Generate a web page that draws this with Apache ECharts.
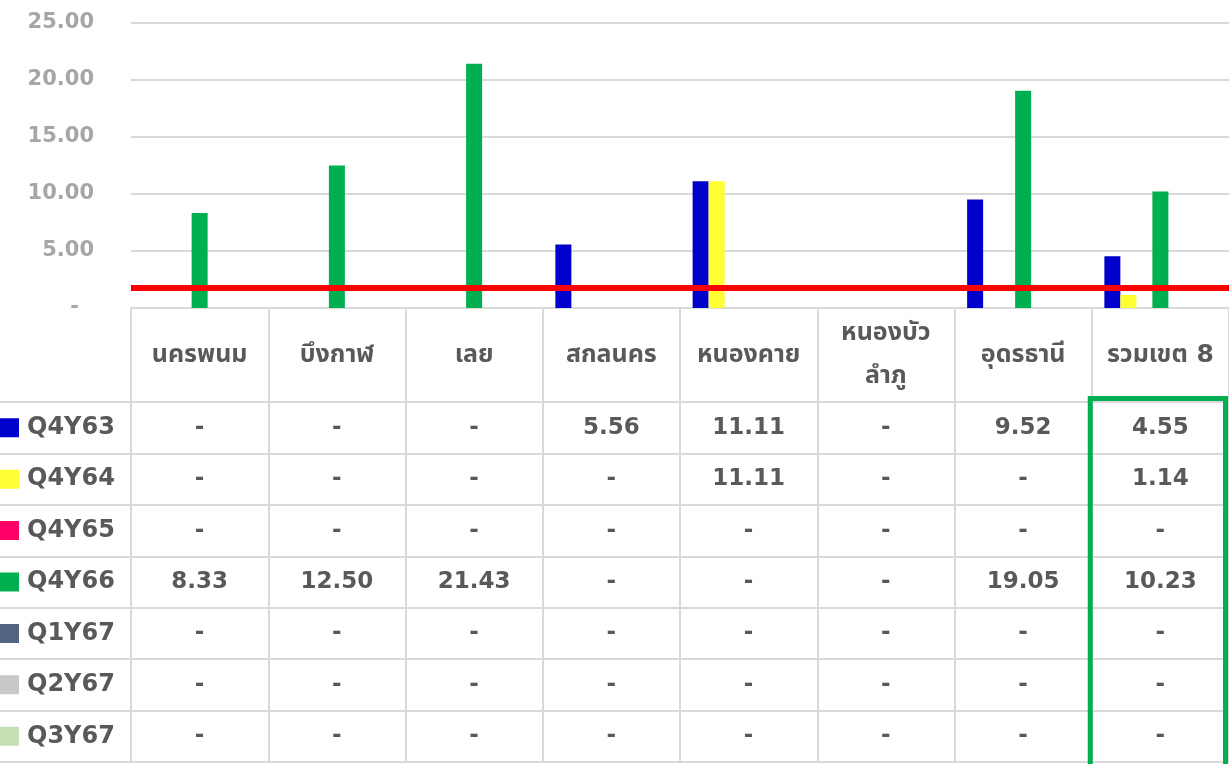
<!DOCTYPE html>
<html>
<head>
<meta charset="utf-8">
<title>chart</title>
<script src="https://cdn.jsdelivr.net/npm/echarts@6/dist/echarts.min.js"></script>
<style>
    html, body { margin: 0; padding: 0; background: #ffffff; }
    #main { width: 1229px; height: 764px; }
</style>
</head>
<body>
<div id="main"></div>
<script>
// categories (province + district total)
var categories = ['นครพนม', 'บึงกาฬ', 'เลย', 'สกลนคร', 'หนองคาย', 'หนองบัว\nลำภู', 'อุดรธานี', 'รวมเขต 8'];
var seriesNames = ['Q4Y63', 'Q4Y64', 'Q4Y65', 'Q4Y66', 'Q1Y67', 'Q2Y67', 'Q3Y67'];
var seriesColors = ['#0000cc', '#ffff33', '#ff0066', '#00b050', '#536480', '#c8c8c8', '#c5e0b4'];

// values, null = "-"
var q4y63 = [null, null, null, 5.56, 11.11, null, 9.52, 4.55];
var q4y64 = [null, null, null, null, 11.11, null, null, 1.14];
var q4y65 = [null, null, null, null, null, null, null, null];
var q4y66 = [8.33, 12.50, 21.43, null, null, null, 19.05, 10.23];
var q1y67 = [null, null, null, null, null, null, null, null];
var q2y67 = [null, null, null, null, null, null, null, null];
var q3y67 = [null, null, null, null, null, null, null, null];
var seriesValues = [q4y63, q4y64, q4y65, q4y66, q1y67, q2y67, q3y67];

var targetLine = 1.75;
var yTicks = [0, 5, 10, 15, 20, 25];

var FONT = "'DejaVu Sans', 'Noto Sans Thai', 'Noto Sans', sans-serif";
var TXT = '#595959';
var LINE = '#d9d9d9';

var dom = document.getElementById('main');
var chart = echarts.init(dom, null, {renderer: 'canvas'});

// bars
var series = [];
for (var i = 0; i < seriesNames.length; ++i) {
    var s = {
        type: 'bar',
        name: seriesNames[i],
        xAxisIndex: 0,
        yAxisIndex: 0,
        barWidth: 16,
        barGap: '0%',
        itemStyle: {color: seriesColors[i]},
        data: seriesValues[i]
    };
    if (i === 0) {
        s.markLine = {
            silent: true,
            symbol: ['none', 'none'],
            label: {show: false},
            lineStyle: {color: '#ff0000', width: 6, type: 'solid'},
            data: [{yAxis: targetLine}]
        };
    }
    series.push(s);
}

// table cells
var cells = [];
for (var r = 0; r < seriesNames.length; ++r) {
    for (var c = 0; c < categories.length; ++c) {
        cells.push([c, r, seriesValues[r][c]]);
    }
}
series.push({
    type: 'scatter',
    xAxisIndex: 1,
    yAxisIndex: 1,
    symbolSize: 0,
    silent: true,
    encode: {x: 0, y: 1},
    itemStyle: {opacity: 1},
    label: {
        show: true,
        position: 'inside',
        color: TXT,
        fontFamily: FONT,
        fontWeight: 'bold',
        fontSize: 23,
        formatter: function (p) {
            var v = p.value[2];
            return v == null ? '-' : v.toFixed(2);
        }
    },
    data: cells
});

var legendRich = {t: {color: TXT, fontFamily: FONT, fontWeight: 'bold', fontSize: 24, padding: [0, 0, 0, 8]}};
for (var k = 0; k < seriesColors.length; ++k) {
    legendRich['c' + k] = {backgroundColor: seriesColors[k], width: 19, height: 19};
}

var option = {
    backgroundColor: '#ffffff',
    animation: false,
    textStyle: {fontFamily: FONT},
    grid: [
        {left: 131, right: 0, top: 23, height: 285, outerBoundsMode: 'none'},
        {left: 131, right: 0, top: 402, height: 360, outerBoundsMode: 'none'}
    ],
    xAxis: [
        {
            type: 'category',
            gridIndex: 0,
            data: categories,
            axisLine: {show: true, lineStyle: {color: LINE, width: 2}},
            axisTick: {show: true, length: 94, lineStyle: {color: LINE, width: 2}},
            axisLabel: {
                interval: 0,
                margin: 47,
                verticalAlign: 'middle',
                color: TXT,
                fontFamily: FONT,
                fontWeight: 'bold',
                fontSize: 25,
                lineHeight: 43
            }
        },
        {
            type: 'category',
            gridIndex: 1,
            data: categories,
            axisLine: {show: true, lineStyle: {color: LINE, width: 2}},
            axisTick: {show: false},
            axisLabel: {show: false},
            splitLine: {show: true, lineStyle: {color: LINE, width: 2}}
        }
    ],
    yAxis: [
        {
            type: 'value',
            gridIndex: 0,
            min: yTicks[0],
            max: yTicks[yTicks.length - 1],
            interval: 5,
            axisLine: {show: false},
            axisTick: {show: false},
            splitLine: {lineStyle: {color: LINE, width: 2}},
            axisLabel: {
                margin: 37,
                color: '#a6a6a6',
                fontFamily: FONT,
                fontWeight: 'bold',
                fontSize: 21,
                formatter: function (v) { return v === 0 ? '{d|-}' : v.toFixed(2); },
                rich: {d: {color: '#a6a6a6', fontWeight: 'bold', fontSize: 21, padding: [0, 15, 0, 0]}}
            }
        },
        {
            type: 'category',
            gridIndex: 1,
            inverse: true,
            data: seriesNames,
            axisLine: {show: true, lineStyle: {color: LINE, width: 2}},
            axisTick: {show: true, length: 131, lineStyle: {color: LINE, width: 2}},
            splitLine: {show: true, lineStyle: {color: LINE, width: 2}},
            axisLabel: {
                margin: 131,
                align: 'left',
                formatter: function (v, idx) { return '{c' + idx + '|}{t|' + v + '}'; },
                rich: legendRich
            }
        }
    ],
    series: series
};
chart.setOption(option);

// highlight box round the district total column
var p7 = chart.convertToPixel({gridIndex: 1}, [7, 0]);
var p6 = chart.convertToPixel({gridIndex: 1}, [6, 1]);
var bw = p7[0] - p6[0];
var rh = p6[1] - p7[1];
var bx = p7[0] - bw / 2;
var by = p7[1] - rh / 2;
chart.setOption({
    graphic: [{
        type: 'rect',
        silent: true,
        z: 100,
        shape: {x: bx - 1.5, y: by - 3.5, width: bw - 2, height: rh * 7 + 12},
        style: {fill: 'none', stroke: '#00b050', lineWidth: 5}
    }]
});
</script>
</body>
</html>
